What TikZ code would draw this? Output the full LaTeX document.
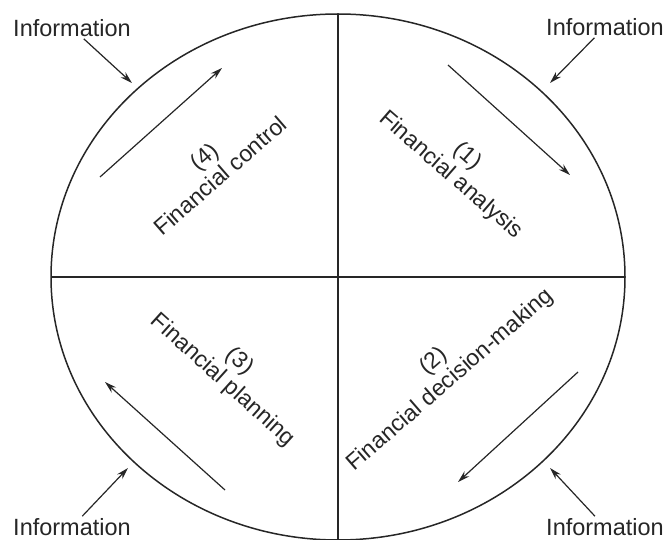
\documentclass[tikz,border=0pt]{standalone}
\usepackage{fontspec}
\setmainfont{Liberation Sans}
\usetikzlibrary{arrows.meta}
\begin{document}
\begin{tikzpicture}[x=1pt,y=-1pt,
  frame/.style={line width=1.5pt, black!85},
  flow/.style={line width=1.2pt, black!85, -{Stealth[length=12pt,width=7pt]}},
  info/.style={font=\fontsize{23.5}{27}\selectfont, inner sep=2pt, text=black!85},
  stage/.style={font=\fontsize{23}{25}\selectfont, align=center, inner sep=0pt, text=black!85}]
\useasboundingbox (0,0) rectangle (665,540);
% circle and dividing lines
\coordinate (c) at (338,277);
\draw[frame] (c) ellipse [x radius=287, y radius=263];
\coordinate (L) at (51,277);
\coordinate (R) at (625,277);
\coordinate (T) at (338,14);
\coordinate (B) at (338,540);
\draw[frame] (L) -- (R);
\draw[frame] (T) -- (B);
% stage labels
\node[stage, rotate=-41] (s1) at (459,166) {(1)\\Financial analysis};
\node[stage, rotate=41] (s2) at (442,371) {(2)\\Financial decision-making};
\node[stage, rotate=-42] (s3) at (231,371) {(3)\\Financial planning};
\node[stage, rotate=41] (s4) at (212,166) {(4)\\Financial control};
% inner flow arrows
\coordinate (a1s) at (448,65);  \coordinate (a1e) at (570,175);
\coordinate (a2s) at (578,372); \coordinate (a2e) at (458,482);
\coordinate (a3s) at (225,490); \coordinate (a3e) at (105,382);
\coordinate (a4s) at (100,177); \coordinate (a4e) at (222,68);
\draw[flow] (a1s) -- (a1e);
\draw[flow] (a2s) -- (a2e);
\draw[flow] (a3s) -- (a3e);
\draw[flow] (a4s) -- (a4e);
% information inputs
\node[info] (i1) at (605,27) {Information};
\node[info] (i2) at (605,527) {Information};
\node[info] (i3) at (72,527) {Information};
\node[info] (i4) at (72,28) {Information};
\coordinate (p1) at (550,83);
\coordinate (p2) at (550,468);
\coordinate (p3) at (128,468);
\coordinate (p4) at (132,83);
\draw[flow] (i1) -- (p1);
\draw[flow] (i2) -- (p2);
\draw[flow] (i3) -- (p3);
\draw[flow] (i4) -- (p4);
\end{tikzpicture}
\end{document}
